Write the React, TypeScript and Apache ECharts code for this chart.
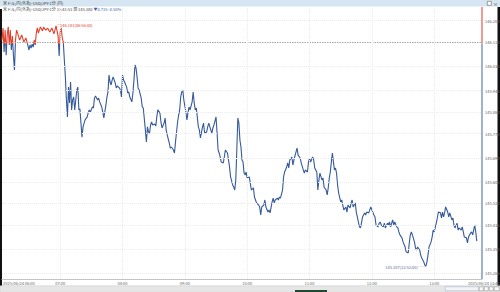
import React, { useEffect, useRef } from "react";
import * as echarts from "echarts";

const TITLE = "米ドル/円(外為)-USD/JPY-1分 (円)";
const QUOTE_LINE = "米ドル/円(外為)-USD/JPY-1分 13:41:53 現 145.380";
const QUOTE_CHANGE = "▼0.735 -0.50%";
const DATE = "2025/06/24";
const START_LABEL = "06:00";
const END_LABEL = "13:41";
const PREV_CLOSE = 146.115;
const Y_TICKS = [145.265, 145.35, 145.435, 145.52, 145.605, 145.69, 145.775, 145.86, 145.945, 146.03, 146.115, 146.2];
// minutes after 06:00
const X_TICKS = [60, 120, 180, 240, 300, 360, 420];
const X_MIN = 4;
const X_MAX = 466;
const Y_MIN = 145.239;
const Y_MAX = 146.251;

// [minutes after 06:00, price]
const PRICES: [number, number][] = [
  [4, 146.128], [5, 146.173], [6, 146.084], [7, 146.165], [8, 146.072], [9, 146.147], [10, 146.177], [11, 146.11],
  [12, 146.165], [13, 146.091], [14, 146.143], [15, 146.072], [16, 146.017], [17, 146.128], [18, 146.165], [19, 146.154],
  [21, 146.128], [23, 146.147], [25, 146.121], [27, 146.136], [29, 146.106], [30, 146.091], [31, 146.11], [32, 146.098],
  [33, 146.113], [34, 146.102], [35, 146.128], [36, 146.11], [37, 146.154], [38, 146.173], [39, 146.154], [41, 146.177],
  [43, 146.162], [44, 146.176], [46, 146.165], [48, 146.172], [50, 146.158], [52, 146.173], [54, 146.151], [56, 146.181],
  [58, 146.143], [59, 146.069], [60, 146.158], [61, 146.173], [62, 146.136], [63, 146.121], [64, 146.054], [65, 145.991],
  [66, 145.905], [67, 145.842], [68, 145.953], [69, 145.894], [70, 145.972], [71, 145.868], [72, 145.905], [73, 145.916],
  [74, 145.868], [76, 145.942], [77, 145.953], [78, 145.868], [79, 145.872], [80, 145.819], [81, 145.767], [82, 145.805],
  [83, 145.819], [84, 145.831], [86, 145.842], [87, 145.857], [88, 145.868], [89, 145.86], [91, 145.879], [92, 145.875],
  [93, 145.912], [94, 145.92], [96, 145.905], [97, 145.912], [98, 145.898], [100, 145.879], [101, 145.86], [102, 145.838],
  [104, 145.886], [105, 145.916], [106, 145.935], [107, 145.998], [108, 145.972], [109, 145.961], [110, 145.979], [111, 145.991],
  [113, 145.968], [114, 145.95], [115, 145.957], [117, 145.95], [118, 145.942], [119, 145.916], [120, 145.998], [121, 145.979],
  [122, 145.972], [124, 145.953], [125, 145.931], [126, 145.935], [127, 145.916], [129, 145.898], [130, 145.931], [131, 145.979],
  [132, 146.035], [133, 146.024], [134, 145.991], [135, 145.95], [136, 145.942], [138, 145.912], [139, 145.879], [140, 145.875],
  [142, 145.793], [143, 145.749], [144, 145.805], [145, 145.786], [146, 145.782], [147, 145.812], [148, 145.823], [149, 145.812],
  [151, 145.816], [152, 145.808], [153, 145.842], [154, 145.868], [156, 145.857], [157, 145.823], [158, 145.801], [160, 145.819],
  [161, 145.838], [162, 145.793], [163, 145.775], [165, 145.745], [166, 145.726], [167, 145.73], [169, 145.719], [170, 145.708],
  [171, 145.749], [172, 145.786], [173, 145.823], [174, 145.849], [175, 145.868], [176, 145.916], [177, 145.935], [178, 145.942],
  [179, 145.905], [181, 145.86], [182, 145.831], [183, 145.857], [184, 145.879], [185, 145.868], [187, 145.898], [188, 145.935],
  [189, 145.894], [190, 145.868], [191, 145.875], [193, 145.805], [194, 145.793], [195, 145.764], [197, 145.805], [198, 145.819],
  [199, 145.782], [201, 145.786], [202, 145.805], [203, 145.819], [205, 145.793], [206, 145.782], [207, 145.801], [208, 145.812],
  [210, 145.842], [211, 145.782], [212, 145.719], [213, 145.708], [214, 145.693], [215, 145.674], [217, 145.671], [218, 145.693],
  [219, 145.719], [221, 145.708], [222, 145.682], [223, 145.656], [224, 145.619], [226, 145.589], [227, 145.581], [228, 145.57],
  [229, 145.607], [230, 145.719], [231, 145.838], [232, 145.819], [233, 145.756], [234, 145.73], [235, 145.682], [236, 145.674],
  [237, 145.633], [238, 145.626], [239, 145.637], [240, 145.615], [242, 145.619], [243, 145.596], [244, 145.57], [246, 145.578],
  [247, 145.544], [248, 145.533], [249, 145.522], [251, 145.514], [252, 145.507], [253, 145.477], [254, 145.507], [256, 145.514],
  [257, 145.533], [258, 145.507], [260, 145.488], [261, 145.496], [262, 145.485], [264, 145.526], [265, 145.54], [266, 145.522],
  [267, 145.533], [269, 145.54], [270, 145.533], [271, 145.544], [272, 145.54], [274, 145.57], [275, 145.619], [276, 145.637],
  [278, 145.656], [279, 145.671], [280, 145.652], [281, 145.682], [283, 145.693], [284, 145.663], [285, 145.682], [287, 145.712],
  [288, 145.726], [289, 145.7], [291, 145.689], [292, 145.671], [294, 145.645], [295, 145.633], [296, 145.645], [298, 145.637],
  [299, 145.674], [300, 145.689], [301, 145.674], [303, 145.693], [304, 145.682], [305, 145.652], [307, 145.637], [308, 145.57],
  [309, 145.607], [310, 145.633], [312, 145.607], [313, 145.615], [314, 145.581], [316, 145.57], [317, 145.552], [318, 145.578],
  [319, 145.615], [320, 145.637], [321, 145.674], [322, 145.708], [323, 145.674], [324, 145.645], [325, 145.652], [326, 145.633],
  [327, 145.589], [328, 145.559], [330, 145.526], [331, 145.533], [332, 145.514], [333, 145.496], [335, 145.507], [336, 145.488],
  [337, 145.514], [339, 145.503], [340, 145.522], [341, 145.533], [342, 145.507], [344, 145.522], [345, 145.488], [346, 145.47],
  [348, 145.433], [349, 145.429], [350, 145.447], [351, 145.47], [353, 145.485], [354, 145.477], [355, 145.488], [357, 145.485],
  [358, 145.496], [359, 145.507], [360, 145.496], [362, 145.477], [363, 145.47], [364, 145.44], [366, 145.433], [367, 145.447],
  [368, 145.451], [369, 145.44], [371, 145.433], [372, 145.447], [373, 145.429], [375, 145.447], [376, 145.44], [377, 145.451],
  [378, 145.433], [380, 145.459], [381, 145.44], [382, 145.451], [384, 145.433], [385, 145.429], [386, 145.414], [387, 145.403],
  [389, 145.392], [390, 145.377], [392, 145.358], [393, 145.34], [395, 145.336], [396, 145.373], [397, 145.403], [398, 145.414],
  [399, 145.403], [401, 145.377], [402, 145.354], [403, 145.347], [404, 145.358], [406, 145.347], [407, 145.328], [408, 145.317],
  [410, 145.302], [411, 145.291], [412, 145.287], [413, 145.302], [414, 145.328], [415, 145.358], [417, 145.377], [418, 145.395],
  [419, 145.421], [420, 145.414], [422, 145.447], [423, 145.466], [424, 145.488], [426, 145.485], [427, 145.466], [428, 145.488],
  [429, 145.47], [430, 145.485], [431, 145.507], [433, 145.488], [434, 145.47], [435, 145.485], [437, 145.459], [438, 145.466],
  [439, 145.44], [440, 145.429], [442, 145.447], [443, 145.421], [444, 145.429], [446, 145.421], [447, 145.433], [448, 145.414],
  [449, 145.395], [451, 145.392], [452, 145.373], [453, 145.395], [455, 145.41], [456, 145.414], [457, 145.403], [458, 145.421],
  [459, 145.44], [460, 145.414], [461, 145.38],
];

const RED = "#e2402d";
const BLUE = "#35599a";
const FONT = "'Noto Sans CJK JP', 'Noto Sans', sans-serif";

function hhmm(m: number): string {
  const h = 6 + Math.floor(m / 60);
  const mm = m % 60;
  return `${String(h).padStart(2, "0")}:${String(mm).padStart(2, "0")}`;
}

export default function App() {
  const ref = useRef<HTMLDivElement>(null);
  useEffect(() => {
    if (!ref.current) return;
    const chart = echarts.init(ref.current, undefined, { renderer: "svg" });
    let maxI = 0;
    let minI = 0;
    PRICES.forEach((p, i) => {
      if (p[1] > PRICES[maxI][1]) maxI = i;
      if (p[1] < PRICES[minI][1]) minI = i;
    });
    const maxP = PRICES[maxI];
    const minP = PRICES[minI];
    const last = PRICES[PRICES.length - 1];

    const gridStyle = { color: "#ececec", type: [1, 1], width: 1 };
    const tickLabel = { show: true, fontSize: 4, color: "#666", fontFamily: FONT };

    chart.setOption({
      animation: false,
      textStyle: { fontFamily: FONT },
      grid: { left: 2, right: 18, top: 7, bottom: 13 },
      xAxis: {
        type: "value",
        min: X_MIN,
        max: X_MAX,
        axisLine: { show: true, lineStyle: { color: "#c4c4c4", width: 1 } },
        axisTick: { show: false },
        axisLabel: { show: false },
        splitLine: { show: false },
      },
      yAxis: {
        type: "value",
        position: "right",
        min: Y_MIN,
        max: Y_MAX,
        axisLine: { show: false },
        axisTick: { show: false },
        axisLabel: { show: false },
        splitLine: { show: false },
      },
      visualMap: {
        type: "piecewise",
        show: false,
        dimension: 1,
        seriesIndex: 1,
        pieces: [
          { lt: PREV_CLOSE, color: BLUE },
          { gte: PREV_CLOSE, lt: Y_MAX, color: RED },
          { gte: Y_MAX, color: RED },
        ],
      },
      series: [
        {
          type: "line",
          data: [],
          silent: true,
          markLine: {
            silent: true,
            symbol: ["none", "none"],
            lineStyle: gridStyle,
            data: [
              ...Y_TICKS.map((v) => ({
                yAxis: v,
                lineStyle: v === PREV_CLOSE ? { color: "#a8a8a8", type: [1.5, 1], width: 1 } : gridStyle,
                label: { ...tickLabel, position: "end", distance: 3, formatter: v.toFixed(3) },
              })),
              ...X_TICKS.map((v) => ({
                xAxis: v,
                label: { ...tickLabel, position: "start", distance: 2, formatter: hhmm(v) },
              })),
            ],
          },
        },
        {
          type: "line",
          data: PRICES,
          showSymbol: false,
          symbol: "none",
          lineStyle: { width: 1.1 },
          markLine: {
            silent: true,
            symbol: ["none", "none"],
            label: { show: false },
            data: [
              [
                { coord: [X_MAX, Y_MAX], lineStyle: { color: "#e87a6c", type: "solid", width: 1.5 } },
                { coord: [X_MAX, PREV_CLOSE] },
              ],
              [
                { coord: [X_MAX, PREV_CLOSE], lineStyle: { color: "#7f98c4", type: "solid", width: 1.5 } },
                { coord: [X_MAX, Y_MIN] },
              ],
              [
                {
                  coord: [last[0], last[1]],
                  lineStyle: { opacity: 0, width: 0 },
                  label: {
                    show: true,
                    position: "end",
                    distance: 1,
                    formatter: last[1].toFixed(3),
                    fontSize: 4,
                    color: "#fff",
                    backgroundColor: "#4a6fb3",
                    padding: [2, 2, 1, 2],
                    fontFamily: FONT,
                  },
                },
                { coord: [X_MAX, last[1]] },
              ],
            ],
          },
          markPoint: {
            silent: true,
            symbol: "circle",
            symbolSize: 0,
            data: [
              {
                coord: [maxP[0], maxP[1]],
                label: {
                  show: true,
                  position: "right",
                  distance: 0,
                  offset: [0, -1],
                  formatter: `┌${maxP[1].toFixed(3)}(${hhmm(maxP[0])}:00)`,
                  fontSize: 4,
                  color: RED,
                  fontFamily: FONT,
                },
              },
              {
                coord: [minP[0], minP[1]],
                label: {
                  show: true,
                  position: "left",
                  distance: 0,
                  offset: [0, 1],
                  formatter: `${minP[1].toFixed(3)}(${hhmm(minP[0])}:00)──`,
                  fontSize: 4,
                  color: "#5b6f98",
                  fontFamily: FONT,
                },
              },
            ],
          },
        },
      ],
      graphic: [
        { type: "rect", left: 0, top: 0, shape: { width: 500, height: 6.5 }, style: { fill: "#d6e5f2" }, silent: true },
        { type: "text", left: 3, top: 1, style: { text: TITLE, fontSize: 4, fill: "#333", fontFamily: FONT } },
        {
          type: "text",
          left: 3,
          top: 7,
          style: {
            text: `${QUOTE_LINE} {b|${QUOTE_CHANGE}}`,
            fontSize: 4,
            fill: "#444",
            fontFamily: FONT,
            rich: { b: { fontSize: 4, fill: "#3a5fa8", fontFamily: FONT } },
          },
        },
        { type: "rect", left: 487, top: 1, shape: { width: 4, height: 4 }, style: { fill: "#fff", stroke: "#666", lineWidth: 0.6 } },
        { type: "text", left: 493, top: 0.5, style: { text: "×", fontSize: 5, fill: "#444", fontFamily: FONT } },
        { type: "rect", left: 0, top: 9, shape: { width: 2, height: 277 }, style: { fill: "#111" } },
        { type: "rect", left: 497.5, top: 7, shape: { width: 2.5, height: 279 }, style: { fill: "#111" } },
        { type: "text", left: 3, top: 281, style: { text: `${DATE} ${START_LABEL}`, fontSize: 4, fill: "#666", fontFamily: FONT } },
        { type: "text", left: 468, top: 281, style: { text: `${DATE} ${END_LABEL}`, fontSize: 4, fill: "#666", fontFamily: FONT } },
        { type: "rect", left: 0, top: 285.5, shape: { width: 500, height: 6.5 }, style: { fill: "#e6e6e6", stroke: "#c8c8c8", lineWidth: 0.5 } },
        { type: "rect", left: 295, top: 290, shape: { width: 32, height: 2 }, style: { fill: "#1f4a30" } },
        { type: "rect", left: 445, top: 286.5, shape: { width: 33, height: 4 }, style: { fill: "#f4f4f4", stroke: "#9fb3d0", lineWidth: 0.5 } },
        { type: "rect", left: 479, top: 286.5, shape: { width: 4, height: 4 }, style: { fill: "#fafafa", stroke: "#888", lineWidth: 0.5 } },
        { type: "rect", left: 484, top: 286.5, shape: { width: 4, height: 4 }, style: { fill: "#fafafa", stroke: "#888", lineWidth: 0.5 } },
        { type: "rect", left: 489, top: 286.5, shape: { width: 4, height: 4 }, style: { fill: "#fafafa", stroke: "#888", lineWidth: 0.5 } },
        { type: "rect", left: 494, top: 286.5, shape: { width: 5, height: 4 }, style: { fill: "#fafafa", stroke: "#888", lineWidth: 0.5 } },
      ],
    });
    return () => chart.dispose();
  }, []);
  return (
    <div
      ref={ref}
      style={{ position: "fixed", left: 0, top: 0, width: 500, height: 292, background: "#fff" }}
    />
  );
}
